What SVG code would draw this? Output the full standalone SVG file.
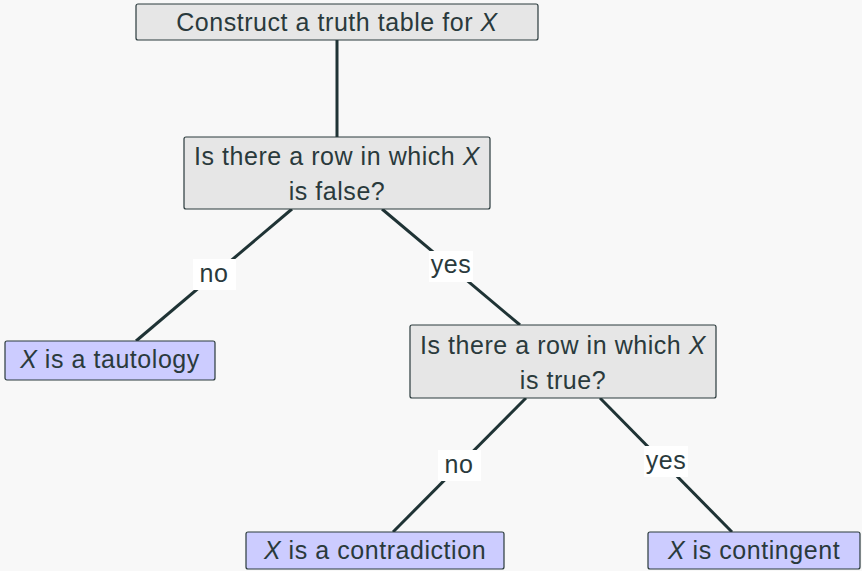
<svg xmlns="http://www.w3.org/2000/svg" width="862" height="571" viewBox="0 0 862 571">
<style>
.q{fill:#e6e6e6;stroke:#2a3a3c;stroke-width:1.2}
.a{fill:#ccccff;stroke:#2a3a3c;stroke-width:1.2}
text{font-family:"Liberation Sans","DejaVu Sans",sans-serif;font-size:25px;letter-spacing:0.55px;fill:#2a3a3c;text-anchor:middle}
.i{font-style:italic}
.e{stroke:#1f3335;stroke-width:3;fill:none}
.lb{fill:#ffffff;stroke:none}
</style>
<rect width="862" height="571" fill="#f8f8f8"/>
<g id="connectors">
<line class="e" x1="337" y1="40" x2="337" y2="137"/>
<line class="e" x1="292" y1="209" x2="136" y2="341"/>
<line class="e" x1="382" y1="209" x2="520" y2="325"/>
<line class="e" x1="526" y1="398" x2="393" y2="532"/>
<line class="e" x1="600" y1="398" x2="732" y2="532"/>
<rect class="lb" x="193" y="259" width="43" height="31"/>
<text x="214" y="282">no</text>
<rect class="lb" x="429" y="251" width="44" height="31"/>
<text x="451" y="273">yes</text>
<rect class="lb" x="438" y="450" width="43" height="31"/>
<text x="459" y="473">no</text>
<rect class="lb" x="644" y="446" width="44" height="31"/>
<text x="666" y="469">yes</text>
</g>
<g id="n1">
<rect class="q" x="136" y="4" width="402" height="36" rx="2"/>
<text x="337" y="31">Construct a truth table for <tspan class="i">X</tspan></text>
</g>
<g id="n2">
<rect class="q" x="184" y="137" width="306" height="72" rx="2"/>
<text x="337" y="165">Is there a row in which <tspan class="i">X</tspan></text>
<text x="337" y="200">is false?</text>
</g>
<g id="n3">
<rect class="a" x="5" y="341" width="210" height="39" rx="2"/>
<text x="110" y="368"><tspan class="i">X</tspan> is a tautology</text>
</g>
<g id="n4">
<rect class="q" x="410" y="325" width="306" height="73" rx="2"/>
<text x="563" y="354">Is there a row in which <tspan class="i">X</tspan></text>
<text x="563" y="389">is true?</text>
</g>
<g id="n5">
<rect class="a" x="246" y="532" width="258" height="37" rx="2"/>
<text x="375" y="559"><tspan class="i">X</tspan> is a contradiction</text>
</g>
<g id="n6">
<rect class="a" x="648" y="532" width="212" height="37" rx="2"/>
<text x="754" y="559"><tspan class="i">X</tspan> is contingent</text>
</g>
</svg>
